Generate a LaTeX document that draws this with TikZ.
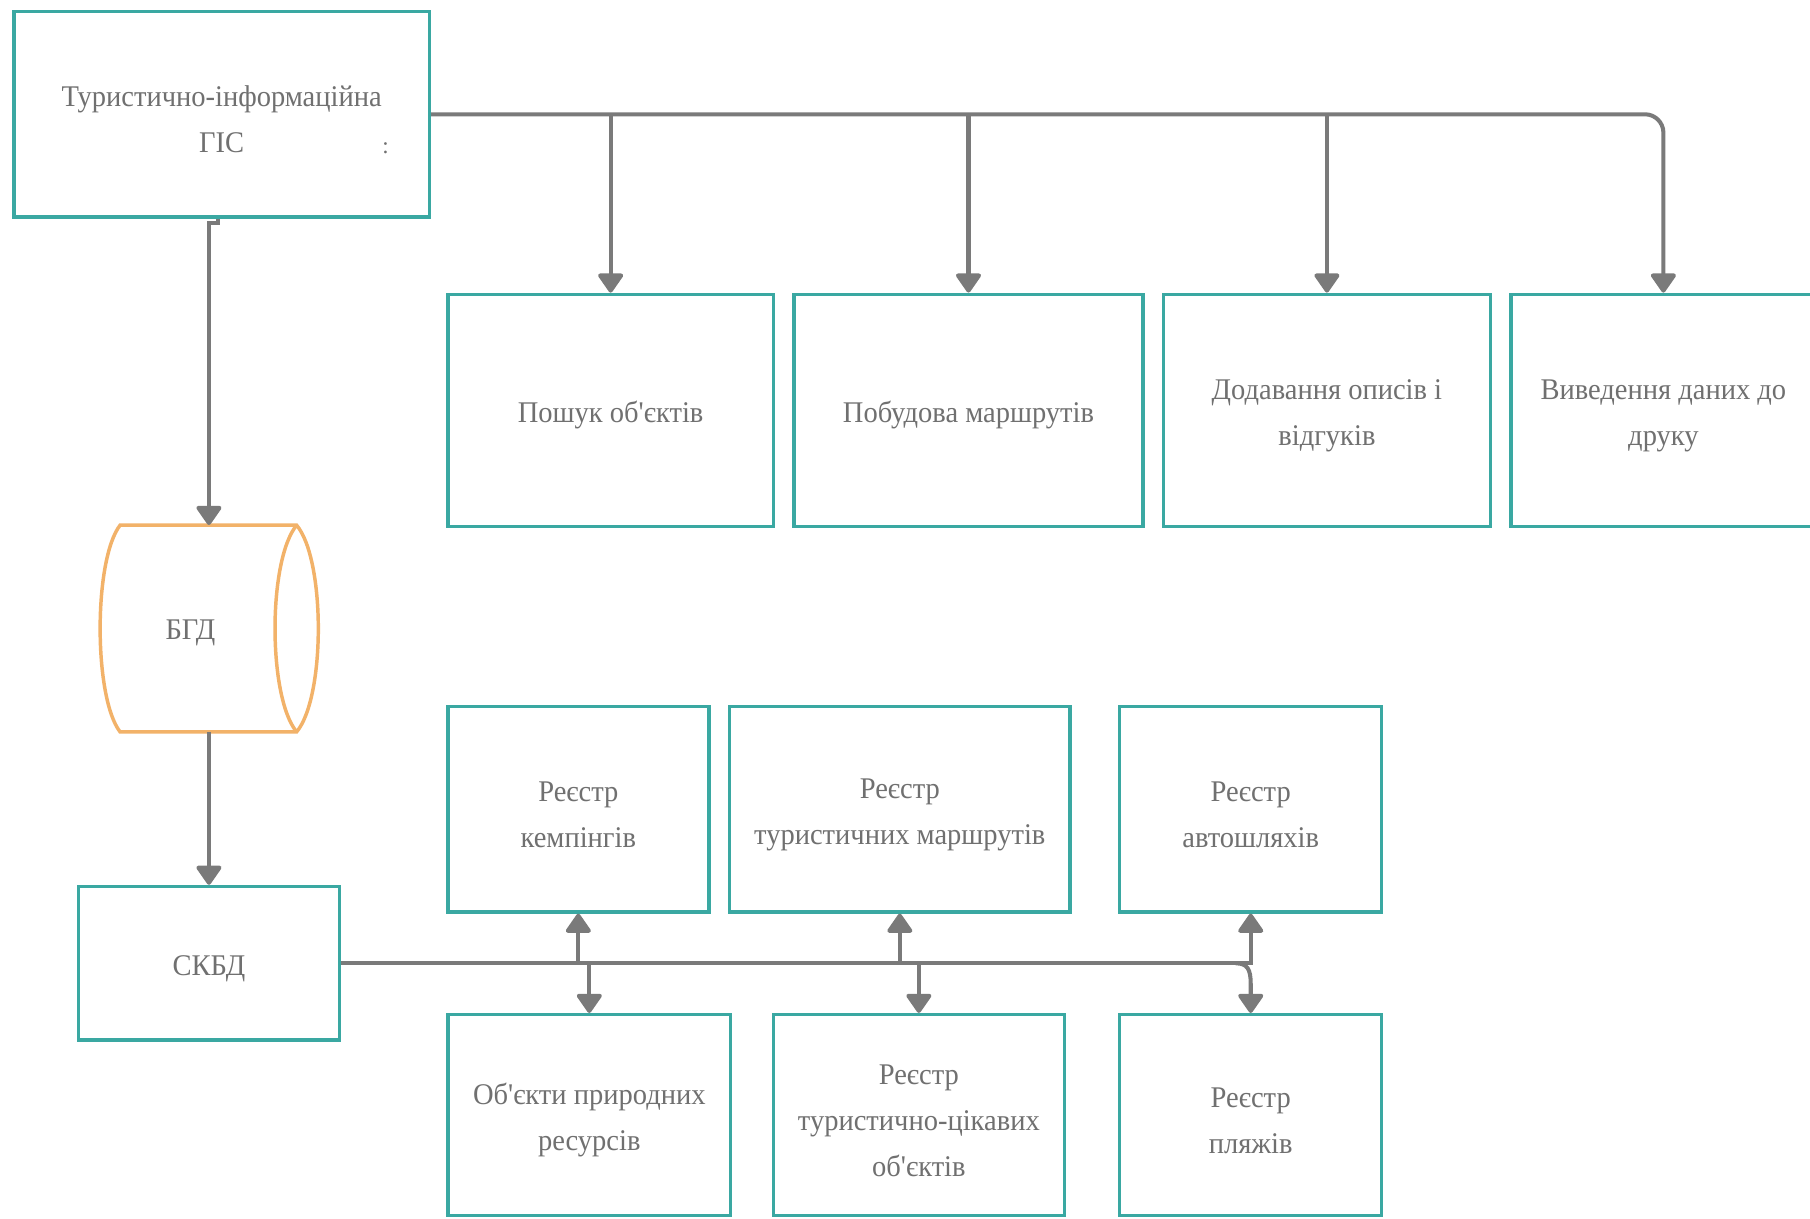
\documentclass[tikz,border=0pt]{standalone}
\usepackage{fontspec}
\setmainfont{Liberation Serif}
\newfontfamily\boxfont[FakeStretch=0.95]{Liberation Serif}
\usetikzlibrary{arrows.meta,calc}
\definecolor{teal1}{RGB}{58,168,162}
\definecolor{lgray}{RGB}{122,122,122}
\definecolor{tgray}{RGB}{112,112,112}
\definecolor{orng}{RGB}{242,178,105}
\newcommand\myup{\rule{0pt}{27pt}}
\begin{document}
\begin{tikzpicture}[x=1pt,y=-1pt,
  box/.style={draw=teal1,line width=3pt,fill=white,inner sep=0pt,align=center,
    text=tgray,font=\boxfont\fontsize{26}{40}\selectfont},
  conn/.style={draw=lgray,line width=3.5pt},
  arr/.style={conn,-{Triangle[width=24pt,length=18pt,round]}},
  bgdline/.style={draw=orng,line width=3pt}]
\clip (0,0) rectangle (1568,1056);
\fill[white] (0,0) rectangle (1568,1056);
% top
\node[box,minimum width=360,minimum height=178] (gis) at (192,99) {\myup Туристично-інформаційна\\ГІС};
\node[text=tgray,font=\fontsize{20}{20}\selectfont] (colon) at (334,128) {:};
\node[box,minimum width=282,minimum height=201] (p1) at (529,355.5) {\myup Пошук об'єктів};
\node[box,minimum width=302,minimum height=201] (p2) at (839,355.5) {\myup Побудова маршрутів};
\node[box,minimum width=283,minimum height=201] (p3) at (1149.5,355.5) {\myup Додавання описів і\\відгуків};
\node[box,minimum width=264,minimum height=201] (p4) at (1441,355.5) {\myup Виведення даних до\\друку};
% BGD
\node[inner sep=0pt,minimum width=188,minimum height=179] (bgd) at (181,544.5) {};
\draw[bgdline,fill=white] (104,455) -- (257,455) .. controls (282,485) and (282,604) .. (257,634) -- (104,634) .. controls (81,604) and (81,485) .. (104,455) -- cycle;
\draw[bgdline] (257,455) .. controls (232,485) and (232,604) .. (257,634);
\node[text=tgray,font=\boxfont\fontsize{26}{40}\selectfont] (bgdt) at (165,548) {БГД};
% SKBD
\node[box,minimum width=226,minimum height=133] (skbd) at (181,834.5) {\myup СКБД};
\node[box,minimum width=226,minimum height=178] (r1) at (501,701) {\myup Реєстр\\кемпінгів};
\node[box,minimum width=295,minimum height=178] (r2) at (779.5,701) {\myup Реєстр\\туристичних маршрутів};
\node[box,minimum width=227,minimum height=178] (r3) at (1083.5,701) {\myup Реєстр\\автошляхів};
\node[box,minimum width=245,minimum height=174] (b1) at (510.5,966) {\myup Об'єкти природних\\ресурсів};
\node[box,minimum width=252,minimum height=174] (b2) at (796,966) {\myup Реєстр\\туристично-цікавих\\об'єктів};
\node[box,minimum width=227,minimum height=174] (b3) at (1083.5,966) {\myup Реєстр\\пляжів};
% connectors top
\draw[arr,rounded corners=16pt] (gis.east) -| (p4.north);
\foreach \n in {p1,p2,p3} \draw[arr] (\n.north |- gis.east) -- (\n.north);
\draw[arr] ([xshift=-3pt]gis.south) -- ++(0,4) -| (bgd.north);
\draw[arr] (bgd.south) -- (skbd.north);
% connectors bottom
\draw[arr] (skbd.east) -| (r3.south);
\foreach \n in {r1,r2} \draw[arr] (\n.south |- skbd.east) -- (\n.south);
\foreach \n in {b1,b2} \draw[arr] (\n.north |- skbd.east) -- (\n.north);
\coordinate (j3) at ($(b3.north |- skbd.east)+(-13,0)$);
\draw[arr] (j3) .. controls ($(j3)+(10,0)$) and ($(b3.north |- skbd.east)+(0,5)$) .. ($(b3.north |- skbd.east)+(0,18)$) -- (b3.north);
\end{tikzpicture}
\end{document}
